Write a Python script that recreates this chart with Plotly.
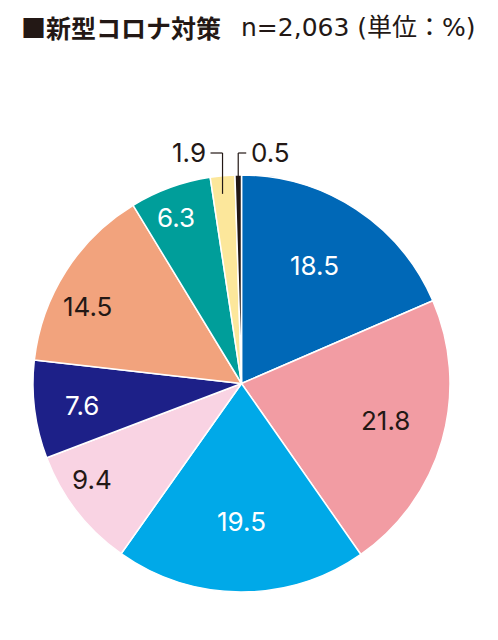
import math
import plotly.graph_objects as go

# page body has an 8px margin, so the figure sits at (8, 8) in the window
OFF = 8
W, H = 498 - OFF, 640 - OFF

# data (単位:%)
labels = ["A", "B", "C", "D", "E", "F", "G", "H", "I"]
values = [18.5, 21.8, 19.5, 9.4, 7.6, 14.5, 6.3, 1.9, 0.5]
colors = ["#0068b7", "#f29ca3", "#00a9e8", "#f9d3e3", "#1d2088",
          "#f2a37d", "#009e9a", "#fce79b", "#231815"]
text_colors = ["white", "#231815", "white", "#231815", "white",
               "#231815", "white", "#231815", "#231815"]

# label placement inside each slice (fraction of radius, angle nudge in degrees)
label_r = [0.665, 0.715, 0.66, 0.853, 0.772, 0.823, 0.858, None, None]
label_nudge = [-1.3, -1.6, 0, 5.2, -0.5, -6.1, -1.5, 0, 0]

# pie geometry in window pixels
CX, CY, R = 241.5, 383.5, 208.5
DARK = "#231815"
NUM_FONT = "Inter, Liberation Sans, Arial, sans-serif"
NUM_SIZE = 26


def px(x, y):
    # window pixels -> paper coords
    return (x - OFF) / W, 1 - (y - OFF) / H


x0p, y1p = px(CX - R, CY - R)
x1p, y0p = px(CX + R, CY + R)

fig = go.Figure(go.Pie(
    labels=labels,
    values=values,
    sort=False,
    direction="clockwise",
    rotation=0,
    marker=dict(colors=colors, line=dict(color="white", width=1.5)),
    textinfo="none",
    hoverinfo="skip",
    domain=dict(x=[x0p, x1p], y=[y0p, y1p]),
))

annotations = []
shapes = []
total = sum(values)
cum = 0
for i, v in enumerate(values):
    mid = (cum + v / 2) / total * 360
    cum += v
    if label_r[i] is not None:
        a = math.radians(mid + label_nudge[i])
        x = CX + label_r[i] * R * math.sin(a)
        y = CY - label_r[i] * R * math.cos(a)
        ax, ay = px(x, y)
        annotations.append(dict(
            x=ax, y=ay, xref="paper", yref="paper", text=f"{v}",
            showarrow=False, xanchor="center", yanchor="middle",
            font=dict(family=NUM_FONT, size=NUM_SIZE, color=text_colors[i])))
    else:
        # small slices: label outside with elbow leader line
        a = math.radians(mid)
        lx = CX + R * math.sin(a)
        y_top = 153
        y_bot = CY - R * math.cos(a) + 18
        side = -1 if i == 7 else 1
        hx = lx + side * (12 if side < 0 else 8)
        for (xa, ya, xb, yb) in [(lx, y_bot, lx, y_top), (lx, y_top, hx, y_top)]:
            p0, p1 = px(xa, ya), px(xb, yb)
            shapes.append(dict(type="line", xref="paper", yref="paper",
                               x0=p0[0], y0=p0[1], x1=p1[0], y1=p1[1],
                               line=dict(color=DARK, width=1.2)))
        tx, ty = px(hx + side * 3, y_top - 1)
        annotations.append(dict(
            x=tx, y=ty, xref="paper", yref="paper", text=f"{v}",
            showarrow=False, xanchor="right" if side < 0 else "left",
            yanchor="middle",
            font=dict(family=NUM_FONT, size=NUM_SIZE, color=DARK)))

# title
tx, ty = px(19, 27)
annotations.append(dict(
    x=tx, y=ty, xref="paper", yref="paper", text="<b>■新型コロナ対策</b>",
    showarrow=False, xanchor="left", yanchor="middle",
    font=dict(family="Noto Sans CJK JP", size=25, color=DARK)))
tx, ty = px(239, 28)
annotations.append(dict(
    x=tx, y=ty, xref="paper", yref="paper", text="n=2,063 (単位：%)",
    showarrow=False, xanchor="left", yanchor="middle",
    font=dict(family="DejaVu Sans, Noto Sans CJK JP", size=25, color=DARK)))

fig.update_layout(
    width=W, height=H,
    margin=dict(l=0, r=0, t=0, b=0),
    paper_bgcolor="white",
    showlegend=False,
    annotations=annotations,
    shapes=shapes,
)

fig.write_html("out.html")
